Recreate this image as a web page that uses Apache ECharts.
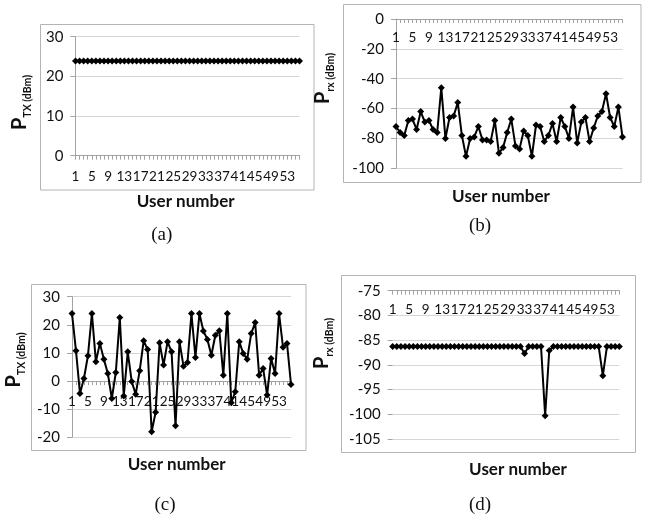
<!DOCTYPE html>
<html>
<head>
<meta charset="utf-8">
<script src="https://cdn.jsdelivr.net/npm/echarts@6/dist/echarts.min.js"></script>
<style>
  html, body { margin: 0; padding: 0; background: #fff; }
  #chart { width: 648px; height: 514px; }
</style>
</head>
<body>
<div id="chart"></div>
<script>
// User indices on the category axis
const users = [1, 2, 3, 4, 5, 6, 7, 8, 9, 10, 11, 12, 13, 14, 15, 16, 17, 18, 19, 20,
  21, 22, 23, 24, 25, 26, 27, 28, 29, 30, 31, 32, 33, 34, 35, 36, 37, 38, 39, 40,
  41, 42, 43, 44, 45, 46, 47, 48, 49, 50, 51, 52, 53, 54, 55, 56];

// (a) transmit power, fixed allocation (dBm)
const ptxFixed = [23.9, 23.9, 23.9, 23.9, 23.9, 23.9, 23.9, 23.9, 23.9, 23.9, 23.9, 23.9, 23.9, 23.9,
  23.9, 23.9, 23.9, 23.9, 23.9, 23.9, 23.9, 23.9, 23.9, 23.9, 23.9, 23.9, 23.9, 23.9,
  23.9, 23.9, 23.9, 23.9, 23.9, 23.9, 23.9, 23.9, 23.9, 23.9, 23.9, 23.9, 23.9, 23.9,
  23.9, 23.9, 23.9, 23.9, 23.9, 23.9, 23.9, 23.9, 23.9, 23.9, 23.9, 23.9, 23.9, 23.9];

// (b) received power, fixed allocation (dBm)
const prxFixed = [-72, -76, -78, -68, -67, -74, -62, -69, -68, -74, -76, -46, -80, -66,
  -65, -56, -78, -92, -80, -79, -72, -81, -81, -82, -68, -90, -86, -76,
  -67, -85, -87, -75, -78, -92, -71, -72, -82, -78, -70, -82, -66, -72,
  -80, -59, -83, -69, -66, -82, -73, -65, -62, -50, -66, -72, -59, -79];

// (c) transmit power, adaptive allocation (dBm)
const ptxAdaptive = [24, 10.8, -4.4, 0.9, 9, 24, 6.9, 13.4, 7.8, 2.7, -6.2, 3, 22.6, -5.3,
  10.4, -0.2, -4.7, 3.7, 14.3, 11.2, -18, -11.1, 13.6, 5.7, 14, 10.4, -15.9, 14,
  5.3, 6.6, 24, 8.4, 24, 17.8, 14.8, 9.2, 16.3, 17.9, 2.1, 24, -7.7, -3.8,
  14, 9.8, 7.8, 16.9, 20.8, 2.1, 4.5, -5, 8, 2.7, 24, 12, 13.4, -1.2];

// (d) received power, adaptive allocation (dBm)
const prxAdaptive = [-86.3, -86.3, -86.3, -86.3, -86.3, -86.3, -86.3, -86.3, -86.3, -86.3, -86.3, -86.3, -86.3, -86.3,
  -86.3, -86.3, -86.3, -86.3, -86.3, -86.3, -86.3, -86.3, -86.3, -86.3, -86.3, -86.3, -86.3, -86.3,
  -86.3, -86.3, -86.3, -86.3, -87.7, -86.3, -86.3, -86.3, -86.3, -100.3, -87.1, -86.3, -86.3, -86.3,
  -86.3, -86.3, -86.3, -86.3, -86.3, -86.3, -86.3, -86.3, -86.3, -92.2, -86.3, -86.3, -86.3, -86.3];

// Value-axis ranges: [min, max, step]
const rangeA = [0, 30, 10];
const rangeB = [-100, 0, 20];
const rangeC = [-20, 30, 10];
const rangeD = [-105, -75, 5];

// Panel texts
const xTitle = 'User number';
const captions = ['(a)', '(b)', '(c)', '(d)'];
const ySubs = ['TX', 'rx', 'TX', 'rx'];

const FONT = 'Lato';
const AXIS_GRAY = '#a3a3a3';
const GRID_GRAY = '#d6d6d6';
const CHART_H = 514;

// cross: where the category axis meets the value axis
//   'bottom' -> lower edge, 'top' -> upper edge, 'zero' -> at value 0
const panels = [
  { data: ptxFixed,    range: rangeA, grid: { left: 75.5, right: 348.5, top: 36.7, bottom: 358.3 }, cross: 'bottom', yLine: true },
  { data: prxFixed,    range: rangeB, grid: { left: 396,  right: 25.5,  top: 19,   bottom: 345.7 }, cross: 'top',    yLine: true },
  { data: ptxAdaptive, range: rangeC, grid: { left: 72,   right: 357,   top: 296.7, bottom: 76.7 }, cross: 'zero',   yLine: true },
  { data: prxAdaptive, range: rangeD, grid: { left: 392.7, right: 28.7, top: 290.7, bottom: 75 },  cross: 'top',    yLine: false }
];

const grids = [], xAxes = [], yAxes = [], series = [];
panels.forEach((p, i) => {
  grids.push(Object.assign({ outerBoundsMode: 'none', containLabel: false }, p.grid));
  const atTop = p.cross === 'top';
  const xAxis = {
    type: 'category',
    gridIndex: i,
    data: users,
    boundaryGap: false,
    position: atTop ? 'top' : 'bottom',
    axisLine: { show: true, onZero: false, lineStyle: { color: AXIS_GRAY, width: 1 } },
    axisTick: { show: true, interval: 0, length: 4, inside: atTop, lineStyle: { color: AXIS_GRAY } },
    axisLabel: {
      interval: 3, inside: atTop, margin: atTop ? 12 : 14,
      fontFamily: FONT, fontSize: 13.5, color: '#111'
    },
    splitLine: { show: false }
  };
  if (p.cross === 'zero') {
    // lift the bottom axis up to the value-0 level of this grid
    const h = CHART_H - p.grid.top - p.grid.bottom;
    xAxis.offset = -((0 - p.range[0]) / (p.range[1] - p.range[0])) * h;
  }
  xAxes.push(xAxis);
  yAxes.push({
    type: 'value',
    gridIndex: i,
    min: p.range[0], max: p.range[1], interval: p.range[2],
    axisLine: { show: p.yLine, lineStyle: { color: AXIS_GRAY, width: 1 } },
    axisTick: { show: true, length: 5, lineStyle: { color: AXIS_GRAY } },
    axisLabel: { margin: 12, fontFamily: FONT, fontSize: 15, color: '#111' },
    splitLine: { show: true, lineStyle: { color: GRID_GRAY, width: 1 } }
  });
  series.push({
    type: 'line',
    xAxisIndex: i, yAxisIndex: i,
    data: p.data,
    symbol: 'diamond', symbolSize: 7,
    showAllSymbol: true,
    itemStyle: { color: '#000' },
    lineStyle: { color: '#000', width: 2 },
    emphasis: { disabled: true },
    z: 3
  });
});

// Chart-area frames, axis titles and captions
const frames = [[40.5, 24.5, 273.5, 165.5], [343.5, 4.5, 297.5, 178], [31.5, 284.5, 274.5, 166], [341.5, 275.5, 294, 177]];
const xTitlePos = [[185.7, 202], [501, 196.7], [176.7, 464.3], [518, 469.3]];
const captionPos = [[161.7, 235], [480, 225.7], [165, 505], [480, 505]];
const yTitlePos = [[21.3, 102.5], [324.3, 78.5], [15.3, 360], [323.3, 343.5]];

const graphics = [];
frames.forEach(f => graphics.push({
  type: 'rect', silent: true,
  shape: { x: f[0], y: f[1], width: f[2], height: f[3] },
  style: { fill: 'none', stroke: '#b4b4b4', lineWidth: 1 }
}));
xTitlePos.forEach(pos => graphics.push({
  type: 'text', silent: true, x: pos[0], y: pos[1],
  style: { text: xTitle, align: 'center', verticalAlign: 'middle',
    font: 'bold 17px ' + FONT, fill: '#111' }
}));
captionPos.forEach((pos, i) => graphics.push({
  type: 'text', silent: true, x: pos[0], y: pos[1],
  style: { text: captions[i], align: 'center', verticalAlign: 'middle',
    font: '19px "Liberation Serif"', fill: '#111' }
}));
// Rotated "P" with a lowered subscript
yTitlePos.forEach((pos, i) => graphics.push({
  type: 'text', silent: true, x: pos[0], y: pos[1], rotation: Math.PI / 2,
  style: {
    text: '{p|P}{s|' + ySubs[i] + ' (dBm)}',
    align: 'center', verticalAlign: 'middle',
    rich: {
      p: { fontFamily: FONT, fontSize: 20, fontWeight: 'bold', verticalAlign: 'top', fill: '#111' },
      s: { fontFamily: FONT, fontSize: 10.5, fontWeight: 'bold', lineHeight: 24, verticalAlign: 'bottom', fill: '#111' }
    }
  }
}));

const chart = echarts.init(document.getElementById('chart'), null, { renderer: 'canvas' });
chart.setOption({
  animation: false,
  backgroundColor: '#fff',
  grid: grids,
  xAxis: xAxes,
  yAxis: yAxes,
  series: series,
  graphic: graphics
});
</script>
</body>
</html>
